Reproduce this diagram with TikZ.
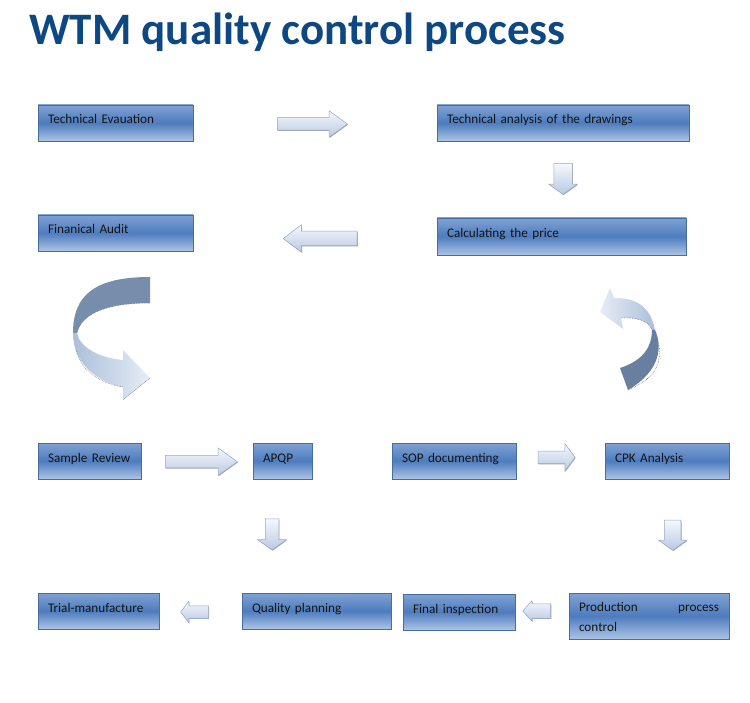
\documentclass[tikz,border=0pt]{standalone}
\usepackage{fontspec}
\setmainfont{Carlito}
\usepackage{tikz}
\usetikzlibrary{shapes.arrows,shadows}

\definecolor{titleblue}{RGB}{14,72,130}
\definecolor{boxtop}{RGB}{128,162,211}
\definecolor{boxmid}{RGB}{78,124,190}
\definecolor{boxbot}{RGB}{172,196,230}
\definecolor{boxline}{RGB}{70,108,160}
\definecolor{arrtop}{RGB}{246,248,252}
\definecolor{arrbot}{RGB}{184,201,228}
\definecolor{arrline}{RGB}{150,170,200}
\definecolor{ribdark}{RGB}{118,141,171}
\definecolor{ribdeep}{RGB}{104,128,160}
\definecolor{riblight}{RGB}{172,191,218}
\definecolor{ribpale}{RGB}{230,237,246}

\tikzset{
  stepbox/.style={rectangle, top color=boxtop, bottom color=boxbot,
    middle color=boxmid, draw=boxline, line width=0.7pt,
    inner xsep=10pt, inner ysep=0pt, align=left, text=black!92,
    font=\fontsize{13.2}{20}\selectfont, text height=9pt, text depth=7pt,
    drop shadow={shadow xshift=0.8pt, shadow yshift=-0.9pt,
      fill=black!75, opacity=0.9}},
  flow/.style={single arrow, single arrow head indent=0pt,
    top color=arrtop, bottom color=arrbot, draw=arrline, line width=0.5pt,
    inner xsep=0pt,
    drop shadow={shadow xshift=0.6pt, shadow yshift=-0.7pt,
      fill=black!60, opacity=0.6}},
  ribshade/.style={densely dotted, line width=0.6pt, black!55},
}

\begin{document}
\begin{tikzpicture}[x=1pt,y=-1pt]
\useasboundingbox (0,0) rectangle (750,703);
% title
\node[anchor=base west, inner sep=0pt, text=titleblue,
  font=\fontsize{45}{50}\selectfont\bfseries] (title) at (29,45)
  {WTM quality control process};
% first part: evaluation and price
\node[stepbox, text width=135pt, minimum height=36pt] (tech) at (115.5,123)
  {Technical Evauation};
\node[stepbox, text width=232pt, minimum height=36pt] (analysis) at (563,123)
  {Technical analysis of the drawings};
\node[stepbox, text width=229pt, minimum height=37pt] (price) at (561.5,236.5)
  {Calculating the price};
\node[stepbox, text width=135pt, minimum height=36pt] (audit) at (115.5,233)
  {Finanical Audit};
\node[flow, minimum height=70pt, inner ysep=6pt, single arrow head extend=7pt,
  single arrow tip angle=72] (a1) at (308,124) {};
\node[flow, rotate=-90, minimum height=31pt, inner ysep=9pt,
  single arrow head extend=5pt, single arrow tip angle=109] (a2) at (563,175.5) {};
\node[flow, rotate=180, minimum height=74pt, inner ysep=7pt,
  single arrow head extend=6.5pt, single arrow tip angle=74] (a3) at (325,238.5) {};
% curved arrow, left side
\fill[ribdark] (150,277) .. controls (95,277) and (73,295) .. (73,333)
  -- (77,333) .. controls (82,312) and (110,303) .. (150,303) -- cycle;
\shade[left color=riblight, right color=ribpale]
  (73,333) .. controls (73,365) and (100,383) .. (123,387)
  -- (123,400) -- (150,378) -- (123,350) -- (123,360)
  .. controls (100,358) and (80,348) .. (77,333) -- cycle;
\draw[ribshade] (77,333) .. controls (82,312) and (110,303) .. (150,303);
\draw[ribshade] (76,350) .. controls (82,372) and (100,383) .. (123,387);
\draw[ribshade] (123,400) -- (150,378);
% curved arrow, right side
\shade[left color=ribpale, right color=riblight]
  (610,288) -- (614,298) .. controls (635,298) and (650,305) .. (655,330)
  -- (652,330) .. controls (648,320) and (635,317) .. (621,318)
  -- (623,329) -- (600,312) -- cycle;
\fill[ribdeep] (655,330) .. controls (662,345) and (662,370) .. (628,390)
  -- (620,368) .. controls (645,360) and (652,345) .. (652,330) -- cycle;
\draw[ribshade] (621,318) .. controls (635,317) and (648,320) .. (652,330);
\draw[ribshade] (659,345) .. controls (662,370) and (650,380) .. (628,390);
% second part: sample and planning
\node[stepbox, text width=83pt, minimum height=36pt] (sample) at (89.5,461)
  {Sample Review};
\node[stepbox, text width=39pt, minimum height=36pt] (apqp) at (282.5,461)
  {APQP};
\node[stepbox, text width=104pt, minimum height=36pt] (sop) at (454,461)
  {SOP documenting};
\node[stepbox, text width=104pt, minimum height=36pt] (cpk) at (667,461)
  {CPK Analysis};
\node[flow, minimum height=72pt, inner ysep=6pt, single arrow head extend=7.5pt,
  single arrow tip angle=71] (a4) at (197,461.7) {};
\node[flow, minimum height=37pt, inner ysep=6pt, single arrow head extend=7.5pt,
  single arrow tip angle=107] (a5) at (554.2,457.3) {};
\node[flow, rotate=-90, minimum height=31pt, inner ysep=6.5pt,
  single arrow head extend=7.5pt, single arrow tip angle=109] (a6) at (272,532) {};
\node[flow, rotate=-90, minimum height=30pt, inner ysep=8pt,
  single arrow head extend=6pt, single arrow tip angle=109] (a7) at (672.7,532.3) {};
% last row
\node[stepbox, text width=101pt, minimum height=36pt] (trial) at (98.5,611)
  {Trial-manufacture};
\node[stepbox, text width=129pt, minimum height=36pt] (qplan) at (316.5,611)
  {Quality planning};
\node[stepbox, text width=92pt, minimum height=36pt] (final) at (459,612)
  {Final inspection};
\node[stepbox, text width=140pt, minimum height=46pt, text depth=17.6pt]
  (prod) at (649,616) {Production\hfill process\\control};
\node[flow, rotate=180, minimum height=28pt, inner ysep=6pt,
  single arrow head extend=4.5pt, single arrow tip angle=105] (a8) at (197,612) {};
\node[flow, rotate=180, minimum height=28pt, inner ysep=7pt,
  single arrow head extend=3pt, single arrow tip angle=96] (a9) at (540,611) {};
\end{tikzpicture}
\end{document}
